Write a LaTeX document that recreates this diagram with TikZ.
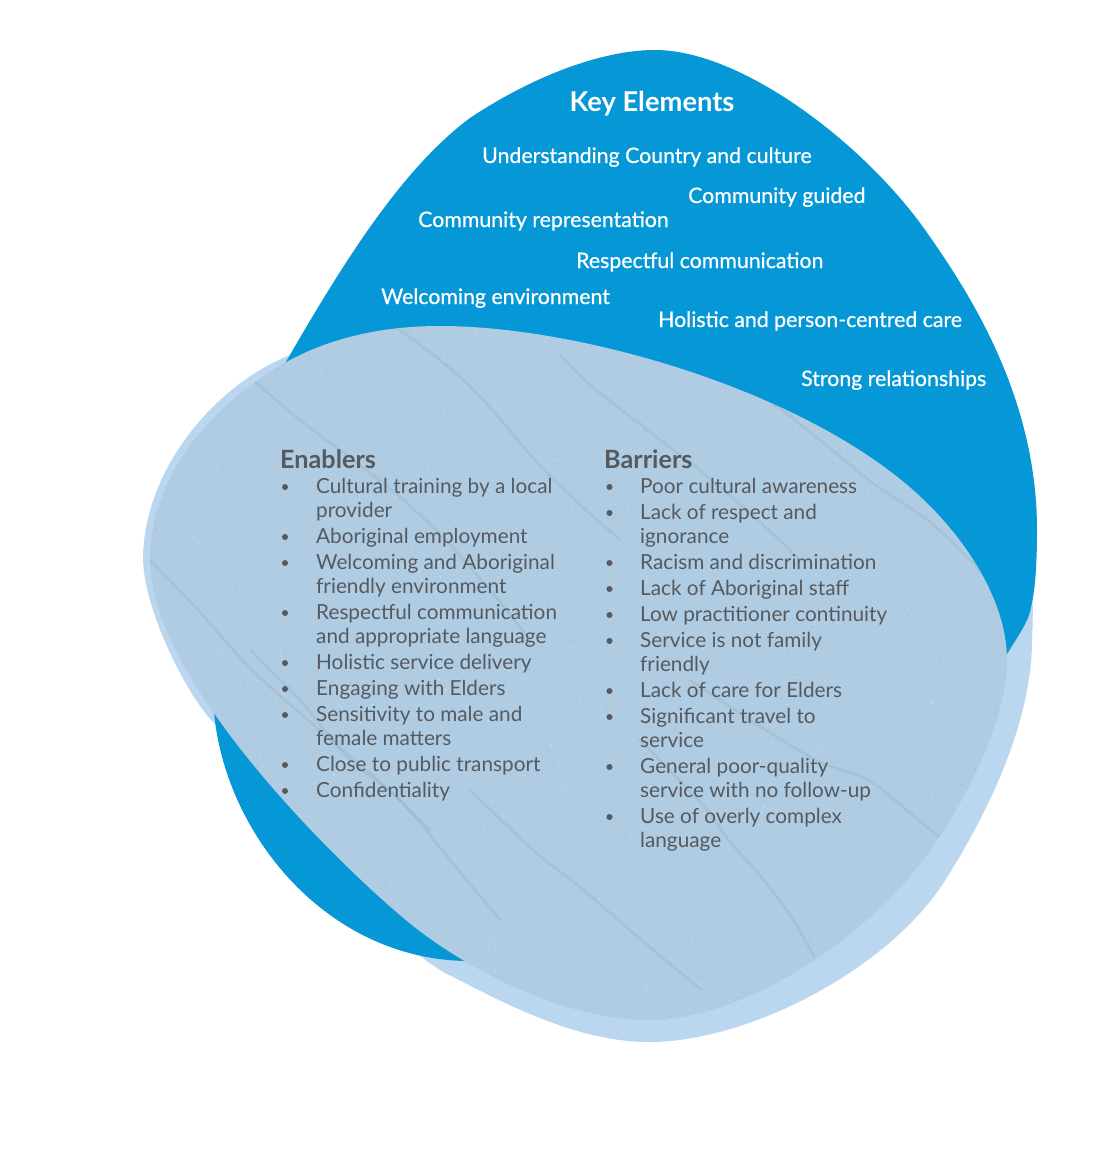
\documentclass[tikz,border=0pt]{standalone}
\usepackage{fontspec}
\setmainfont{Lato}
\newfontfamily\medfont[FakeBold=0.6]{Lato}
\definecolor{darkblob}{RGB}{6,151,214}
\definecolor{lightblob}{RGB}{187,214,239}
\definecolor{sandblob}{RGB}{175,204,226}
\definecolor{streak}{RGB}{105,130,148}
\definecolor{bodytext}{RGB}{85,90,96}
\tikzset{
  title/.style={text=white, font=\bfseries\fontsize{27.3}{32}\selectfont, anchor=base, inner sep=0pt},
  keyitem/.style={text=white, font=\medfont\fontsize{21.3}{25}\selectfont, anchor=base west, inner sep=0pt},
  colhead/.style={text=bodytext, font=\bfseries\fontsize{25.2}{30}\selectfont, anchor=base west, inner sep=0pt},
  listline/.style={text=bodytext, font=\fontsize{20.75}{24}\selectfont, anchor=base west, inner sep=0pt},
  bulletdot/.style={circle, fill=bodytext, draw=none, minimum size=6pt, inner sep=0pt},
  streakline/.style={draw=streak, line width=2.6pt, opacity=0.13, line cap=round}
}
\begin{document}
\begin{tikzpicture}[x=1pt,y=-1pt]
\useasboundingbox (0,0) rectangle (1108,1161);
\fill[white] (0,0) rectangle (1108,1161);

% light blob (back)
\fill[lightblob] (143,560) .. controls (143,470) and (215,385) .. (290,355)
  .. controls (400,315) and (800,330) .. (1000,460)
  .. controls (1030,510) and (1035,580) .. (1032,640)
  .. controls (1032,720) and (990,810) .. (944,882)
  .. controls (889,968) and (750,1042) .. (649,1042)
  .. controls (570,1042) and (490,995) .. (445,973)
  .. controls (380,935) and (260,800) .. (215,724)
  .. controls (190,700) and (145,615) .. (143,560) -- cycle;

% dark blob (middle)
\fill[darkblob] (655,50) .. controls (740,50) and (860,140) .. (923,227)
  .. controls (973,297) and (1037,400) .. (1037,530)
  .. controls (1037,575) and (1034,600) .. (1028,618)
  .. controls (1020,635) and (1012,645) .. (1006,656)
  .. controls (975,705) and (720,962) .. (470,961)
  .. controls (320,961) and (213,820) .. (213,690)
  .. controls (213,560) and (237,447) .. (283,367)
  .. controls (340,268) and (400,170) .. (470,118)
  .. controls (530,78) and (600,50) .. (655,50) -- cycle;

% textured blob (front)
\path[save path=\sandpath] (440,326) .. controls (580,326) and (800,390) .. (913,490)
  .. controls (964,535) and (1007,600) .. (1007,660)
  .. controls (1007,730) and (950,832) .. (905,882)
  .. controls (835,960) and (730,1020) .. (649,1020)
  .. controls (560,1020) and (460,965) .. (407,921)
  .. controls (338,864) and (150,680) .. (150,560)
  .. controls (150,470) and (220,400) .. (283,364)
  .. controls (333,335) and (390,326) .. (440,326) -- cycle;
\fill[sandblob, use path=\sandpath];

\begin{scope}
\clip[use path=\sandpath];
\pgfmathsetseed{7}
\foreach \i in {1,...,1800}{
  \pgfmathsetmacro{\rx}{140+880*rnd}
  \pgfmathsetmacro{\ry}{320+710*rnd}
  \fill[streak, opacity=0.10] (\rx,\ry) circle[radius=0.9];
}
\foreach \i in {1,...,1400}{
  \pgfmathsetmacro{\rx}{140+880*rnd}
  \pgfmathsetmacro{\ry}{320+710*rnd}
  \fill[white, opacity=0.22] (\rx,\ry) circle[radius=0.9];
}
\draw[streakline] plot[smooth] coordinates {(230,360) (300,420) (353,460) (400,497) (443,537) (490,590) (530,640)};
\draw[streakline] plot[smooth] coordinates {(400,330) (450,368) (488,405) (533,458) (575,500) (620,540)};
\draw[streakline] plot[smooth] coordinates {(150,560) (200,612) (252,670) (325,735) (380,782) (430,830)};
\draw[streakline] plot[smooth] coordinates {(560,355) (589,384) (650,432) (702,472) (760,522) (800,560)};
\draw[streakline] plot[smooth] coordinates {(470,790) (533,850) (580,887) (617,919) (665,960) (702,990)};
\draw[streakline] plot[smooth] coordinates {(640,740) (702,804) (730,842) (758,873) (790,915) (814,956)};
\draw[streakline] plot[smooth] coordinates {(690,680) (758,725) (820,762) (870,781) (927,827) (970,860)};
\draw[streakline] plot[smooth] coordinates {(720,370) (758,392) (820,440) (870,481) (930,522) (980,570)};
\draw[streakline] plot[smooth] coordinates {(250,650) (300,700) (350,760) (400,800) (450,860) (500,920)};
\end{scope}

% Key elements
\node[title] (ke) at (652,112) {Key Elements};
\node[keyitem] (k1) at (482,163) {Understanding Country and culture};
\node[keyitem] (k2) at (688,203) {Community guided};
\node[keyitem] (k3) at (418,227) {Community representation};
\node[keyitem] (k4) at (576,268) {Respectful communication};
\node[keyitem] (k5) at (381,304) {Welcoming environment};
\node[keyitem] (k6) at (658,327) {Holistic and person-centred care};
\node[keyitem] (k7) at (801,386) {Strong relationships};

% Enablers
\node[colhead] (eh) at (280,468) {Enablers};
\node[listline] (e1a) at (316,493) {Cultural training by a local};
\node[listline] (e1b) at (316,517) {provider};
\node[listline] (e2) at (316,543) {Aboriginal employment};
\node[listline] (e3a) at (316,569) {Welcoming and Aboriginal};
\node[listline] (e3b) at (316,593) {friendly environment};
\node[listline] (e4a) at (316,619) {Respectful communication};
\node[listline] (e4b) at (316,643) {and appropriate language};
\node[listline] (e5) at (316,669) {Holistic service delivery};
\node[listline] (e6) at (316,695) {Engaging with Elders};
\node[listline] (e7a) at (316,721) {Sensitivity to male and};
\node[listline] (e7b) at (316,745) {female matters};
\node[listline] (e8) at (316,771) {Close to public transport};
\node[listline] (e9) at (316,797) {Confidentiality};
\foreach \y [count=\n] in {493,543,569,619,669,695,721,771,797}
  \node[bulletdot] (eb\n) at (285,\y-6) {};

% Barriers
\node[colhead] (bh) at (604,468) {Barriers};
\node[listline] (b1) at (640,493) {Poor cultural awareness};
\node[listline] (b2a) at (640,519) {Lack of respect and};
\node[listline] (b2b) at (640,543) {ignorance};
\node[listline] (b3) at (640,569) {Racism and discrimination};
\node[listline] (b4) at (640,595) {Lack of Aboriginal staff};
\node[listline] (b5) at (640,621) {Low practitioner continuity};
\node[listline] (b6a) at (640,647) {Service is not family};
\node[listline] (b6b) at (640,671) {friendly};
\node[listline] (b7) at (640,697) {Lack of care for Elders};
\node[listline] (b8a) at (640,723) {Significant travel to};
\node[listline] (b8b) at (640,747) {service};
\node[listline] (b9a) at (640,773) {General poor-quality};
\node[listline] (b9b) at (640,797) {service with no follow-up};
\node[listline] (b10a) at (640,823) {Use of overly complex};
\node[listline] (b10b) at (640,847) {language};
\foreach \y [count=\n] in {493,519,569,595,621,647,697,723,773,823}
  \node[bulletdot] (bb\n) at (609.5,\y-6) {};
\end{tikzpicture}
\end{document}
